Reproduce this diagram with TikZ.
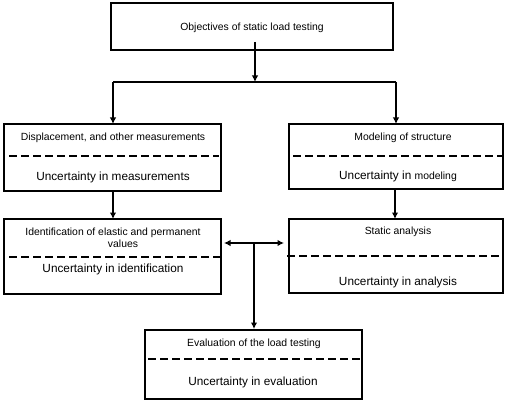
\documentclass[tikz,border=0pt]{standalone}
\usepackage{fontspec}
\setmainfont{Liberation Sans}
\usetikzlibrary{arrows.meta}
\begin{document}
\begin{tikzpicture}[x=1pt,y=-1pt,
  boxst/.style={draw=black,line width=1.1pt},
  dashst/.style={line width=1.3pt,dash pattern=on 8pt off 4pt},
  small/.style={font=\fontsize{10.4}{12}\selectfont,anchor=base,inner sep=0pt},
  large/.style={font=\fontsize{11.8}{14}\selectfont,anchor=base,inner sep=0pt},
  conn/.style={line width=1.3pt,-{Latex[length=6.5pt,width=6.5pt]}},
  line/.style={line width=1.3pt}]
\useasboundingbox (0,0) rectangle (510,403);
% boxes
\draw[boxst] (111,3) rectangle (393,50);
\draw[boxst] (4,124) rectangle (221,191);
\draw[boxst] (289,124) rectangle (503,189);
\draw[boxst] (4,219) rectangle (221,294);
\draw[boxst] (289,219) rectangle (503,293);
\draw[boxst] (145,330) rectangle (362,399);
% dashed separators
\draw[dashst] (9,156) -- (219,156);
\draw[dashst] (293,156) -- (503,156);
\draw[dashst] (9,257) -- (220,257);
\draw[dashst] (287,256) -- (500,256);
\draw[dashst] (148,359) -- (360,359);
% texts
\node[small] (t0) at (252,31) {Objectives of static load testing};
\node[small] (t1) at (113,141) {Displacement, and other measurements};
\node[large] (u1) at (113,180) {Uncertainty in measurements};
\node[small] (t2) at (403,141) {Modeling of structure};
\node[large] (u2) at (398,179) {Uncertainty in {\fontsize{10.4}{12}\selectfont modeling}};
\node[small] (t3) at (113,235) {Identification of elastic and permanent};
\node[small] (t3b) at (123,247) {values};
\node[large] (u3) at (113,272) {Uncertainty in identification};
\node[small] (t4) at (398,234) {Static analysis};
\node[large] (u4) at (398,285) {Uncertainty in analysis};
\node[small] (t5) at (254,346) {Evaluation of the load testing};
\node[large] (u5) at (253,385) {Uncertainty in evaluation};
% connectors
\coordinate (s0) at (255,42);
\coordinate (split) at (255,82);
\coordinate (sl) at (113,82);
\coordinate (sr) at (396,82);
\coordinate (b1t) at (113,124);
\coordinate (b2t) at (396,124);
\coordinate (b1b) at (113,191);
\coordinate (b3t) at (113,219);
\coordinate (b2b) at (395,189);
\coordinate (b4t) at (395,219);
\coordinate (dl) at (224,243);
\coordinate (dr) at (284,243);
\coordinate (dm) at (254,243);
\coordinate (b5t) at (254,329);
\draw[conn] (s0) -- (split);
\draw[line] (sl) -- (sr);
\draw[conn] (sl) -- (b1t);
\draw[conn] (sr) -- (b2t);
\draw[conn] (b1b) -- (b3t);
\draw[conn] (b2b) -- (b4t);
\draw[line,{Latex[length=6.5pt,width=6.5pt]}-{Latex[length=6.5pt,width=6.5pt]}] (dl) -- (dr);
\draw[conn] (dm) -- (b5t);
\end{tikzpicture}
\end{document}
